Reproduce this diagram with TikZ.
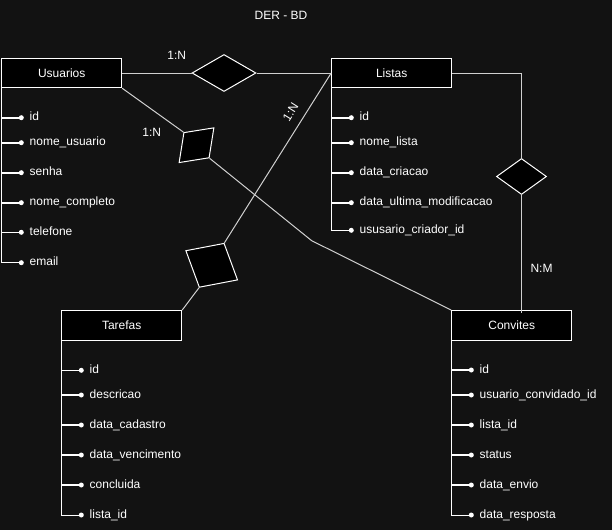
\documentclass[tikz,border=0pt]{standalone}
\usepackage{fontspec}
\setmainfont{Liberation Sans}
\usepackage{tikz}
\usetikzlibrary{shapes.geometric}

\definecolor{bg}{HTML}{121212}
\definecolor{linkgray}{HTML}{D0D0D0}

\tikzset{
  entity/.style={draw=white, fill=black, text=white, line width=1pt, minimum width=120pt, minimum height=29.5pt, inner sep=0pt},
  rel/.style={diamond, draw=white, fill=black, line width=1pt, inner sep=0pt},
  link/.style={draw=linkgray, line width=1pt},
  attr/.style={draw=white, line width=1pt},
  tick/.style={draw=white, line width=1.6pt},
  dot/.style={circle, fill=white, inner sep=0pt, minimum size=5pt},
  attrtext/.style={text=white, inner sep=0pt, xshift=5.5pt, text height=9pt, text depth=3pt},
  lbl/.style={text=white, inner sep=0pt}
}

\begin{document}
\begin{tikzpicture}[x=1pt, y=-1pt, font=\fontsize{12}{14}\selectfont]
\useasboundingbox [fill=bg] (0,0) rectangle (612,530);

\node [lbl] (title) at (281,15) {DER - BD};

\node [entity] (usuarios) at (61.7,73) {Usuarios};
\node [entity] (listas) at (391.7,73) {Listas};
\node [entity] (tarefas) at (121.7,325.3) {Tarefas};
\node [entity] (convites) at (511.7,325.3) {Convites};

\node [dot, label={[attrtext]right:id}] (u1) at (21.3,117.7) {};
\node [dot, label={[attrtext]right:nome\_usuario}] (u2) at (21.3,142.7) {};
\node [dot, label={[attrtext]right:senha}] (u3) at (21.3,172.7) {};
\node [dot, label={[attrtext]right:nome\_completo}] (u4) at (21.3,202.7) {};
\node [dot, label={[attrtext]right:telefone}] (u5) at (21.3,232.3) {};
\node [dot, label={[attrtext]right:email}] (u6) at (21.3,262.7) {};

\node [dot, label={[attrtext]right:id}] (l1) at (351.3,117.7) {};
\node [dot, label={[attrtext]right:nome\_lista}] (l2) at (351.3,142.7) {};
\node [dot, label={[attrtext]right:data\_criacao}] (l3) at (351.3,172.7) {};
\node [dot, label={[attrtext]right:data\_ultima\_modificacao}] (l4) at (351.3,202.7) {};
\node [dot, label={[attrtext]right:ususario\_criador\_id}] (l5) at (351.3,230.3) {};

\node [dot, label={[attrtext]right:id}] (t1) at (81.3,370.3) {};
\node [dot, label={[attrtext]right:descricao}] (t2) at (81.3,395) {};
\node [dot, label={[attrtext]right:data\_cadastro}] (t3) at (81.3,425) {};
\node [dot, label={[attrtext]right:data\_vencimento}] (t4) at (81.3,455) {};
\node [dot, label={[attrtext]right:concluida}] (t5) at (81.3,485) {};
\node [dot, label={[attrtext]right:lista\_id}] (t6) at (81.3,515) {};

\node [dot, label={[attrtext]right:id}] (c1) at (471.3,370) {};
\node [dot, label={[attrtext]right:usuario\_convidado\_id}] (c2) at (471.3,395) {};
\node [dot, label={[attrtext]right:lista\_id}] (c3) at (471.3,425) {};
\node [dot, label={[attrtext]right:status}] (c4) at (471.3,455) {};
\node [dot, label={[attrtext]right:data\_envio}] (c5) at (471.3,485) {};
\node [dot, label={[attrtext]right:data\_resposta}] (c6) at (471.3,515) {};

\draw [attr] (usuarios.south west) |- (u6);
\draw [attr] (listas.south west) |- (l5);
\draw [attr] (tarefas.south west) |- (t6);
\draw [attr] (convites.south west) |- (c6);
\draw [tick] (u1 -| usuarios.west) -- (u1) (u2 -| usuarios.west) -- (u2) (u3 -| usuarios.west) -- (u3) (u4 -| usuarios.west) -- (u4) (u5 -| usuarios.west) -- (u5);
\draw [tick] (l1 -| listas.west) -- (l1) (l2 -| listas.west) -- (l2) (l3 -| listas.west) -- (l3) (l4 -| listas.west) -- (l4);
\draw [tick] (t1 -| tarefas.west) -- (t1) (t2 -| tarefas.west) -- (t2) (t3 -| tarefas.west) -- (t3) (t4 -| tarefas.west) -- (t4) (t5 -| tarefas.west) -- (t5);
\draw [tick] (c1 -| convites.west) -- (c1) (c2 -| convites.west) -- (c2) (c3 -| convites.west) -- (c3) (c4 -| convites.west) -- (c4) (c5 -| convites.west) -- (c5);

\node [rel, minimum width=64pt, minimum height=37pt] (usulis) at (224,73) {};
\node [rel, minimum width=49.5pt, minimum height=36pt, rotate=45] (usuconv) at (196.5,145.2) {};
\node [rel, minimum width=59.7pt, minimum height=50.7pt, rotate=-29.5] (listar) at (211.7,265.3) {};
\node [rel, minimum width=50pt, minimum height=36pt] (lisconv) at (521.5,176.5) {};
\coordinate (bend) at (311.7,240.7);

\draw [link] (usuarios.east) -- (usulis.west);
\draw [link] (usulis.east) -- (listas.west);
\draw [link] (usuarios.south east) -- (usuconv.north);
\draw [link] (usuconv.south) -- (bend) -- (convites.north west);
\draw [link] (listas.west) -- (listar.north);
\draw [link] (listar.south) -- (tarefas.north east);
\draw [link] (listas.east) -| (lisconv.north);
\draw [link] (lisconv.south) -- ([yshift=-3pt]lisconv.south |- convites.north);

\node [lbl] (n1) at (176.7,55) {1:N};
\node [lbl] (n2) at (151.7,132.7) {1:N};
\node [lbl, rotate=58] (n3) at (290.5,112) {1:N};
\node [lbl] (nm) at (541.5,268) {N:M};

\end{tikzpicture}
\end{document}
